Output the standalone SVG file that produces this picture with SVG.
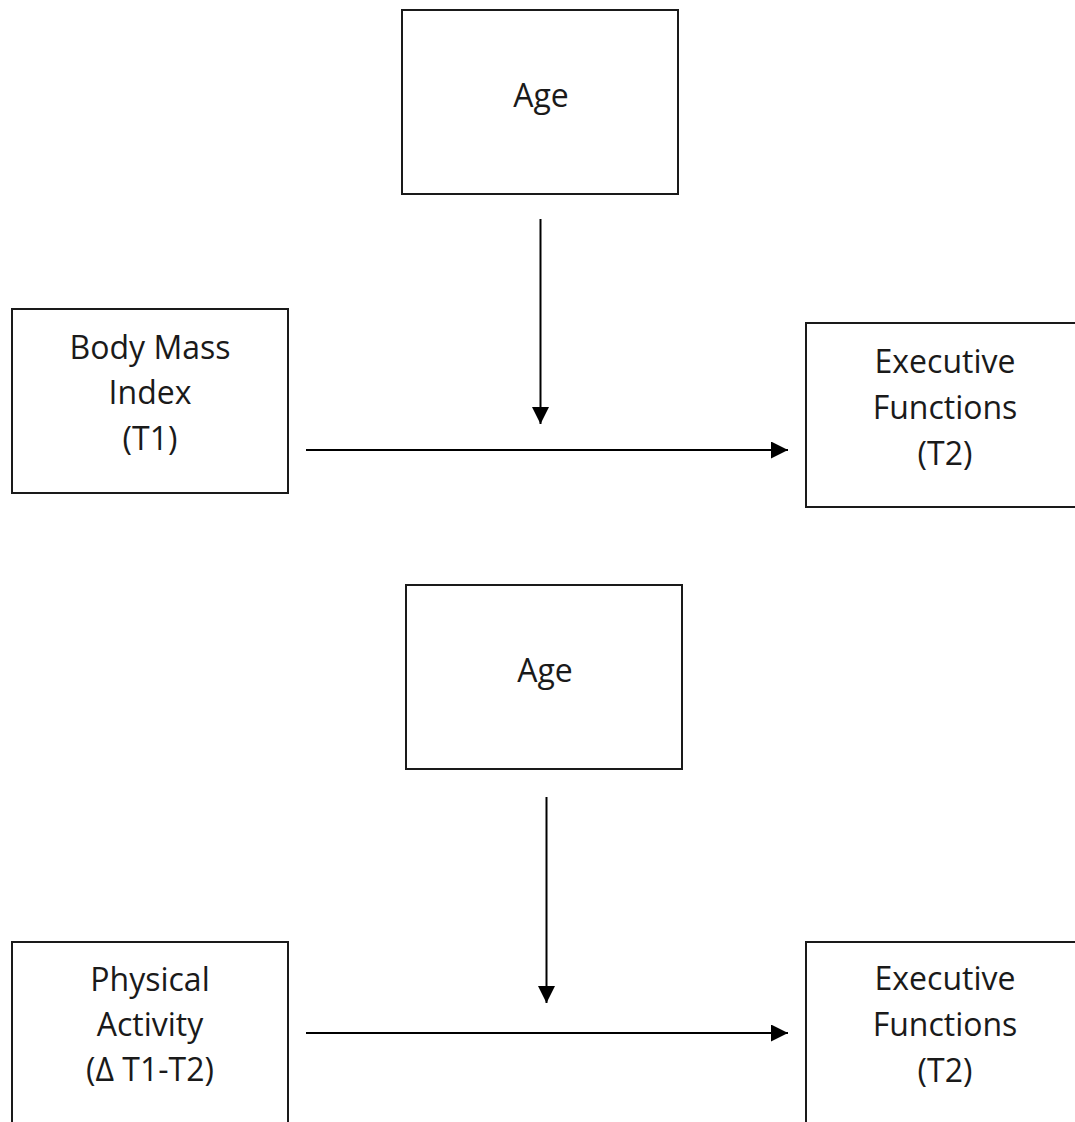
<svg xmlns="http://www.w3.org/2000/svg" width="1075" height="1122" viewBox="0 0 1075 1122">
<style>
.box{fill:#fff;stroke:#1a1a1a;stroke-width:2}
.t{font-family:"Open Sans","Noto Sans","DejaVu Sans",sans-serif;font-size:32px;fill:#1a1a1a;text-anchor:middle}
.c{stroke:#000;stroke-width:2;fill:none}
</style>
<defs>
<marker id="ah" viewBox="0 0 10 10" refX="10" refY="5" markerUnits="userSpaceOnUse" markerWidth="19" markerHeight="17" orient="auto">
<path d="M0,0 L10,5 L0,10 Z" fill="#000"/>
</marker>
</defs>
<rect width="1075" height="1122" fill="#fff"/>
<g id="age1"><rect class="box" x="402" y="10" width="276" height="184"/><text class="t" x="541" y="107">Age</text></g>
<g id="bmi"><rect class="box" x="12" y="309" width="276" height="184"/>
<text class="t" x="150" y="359">Body Mass</text><text class="t" x="150" y="404">Index</text><text class="t" x="150" y="450">(T1)</text></g>
<g id="ef1"><rect class="box" x="806" y="323" width="280" height="184"/>
<text class="t" x="945" y="373">Executive</text><text class="t" x="945" y="419">Functions</text><text class="t" x="945" y="465">(T2)</text></g>
<g id="age2"><rect class="box" x="406" y="585" width="276" height="184"/><text class="t" x="545" y="682">Age</text></g>
<g id="pa"><rect class="box" x="12" y="942" width="276" height="200"/>
<text class="t" x="150" y="991">Physical</text><text class="t" x="150" y="1036">Activity</text><text class="t" x="150" y="1081">(Δ T1-T2)</text></g>
<g id="ef2"><rect class="box" x="806" y="942" width="280" height="200"/>
<text class="t" x="945" y="990">Executive</text><text class="t" x="945" y="1036">Functions</text><text class="t" x="945" y="1082">(T2)</text></g>
<g id="connectors">
<line class="c" x1="540.5" y1="219" x2="540.5" y2="424" marker-end="url(#ah)"/>
<line class="c" x1="306" y1="450" x2="788" y2="450" marker-end="url(#ah)"/>
<line class="c" x1="546.5" y1="797" x2="546.5" y2="1003" marker-end="url(#ah)"/>
<line class="c" x1="306" y1="1033" x2="788" y2="1033" marker-end="url(#ah)"/>
</g>
</svg>
